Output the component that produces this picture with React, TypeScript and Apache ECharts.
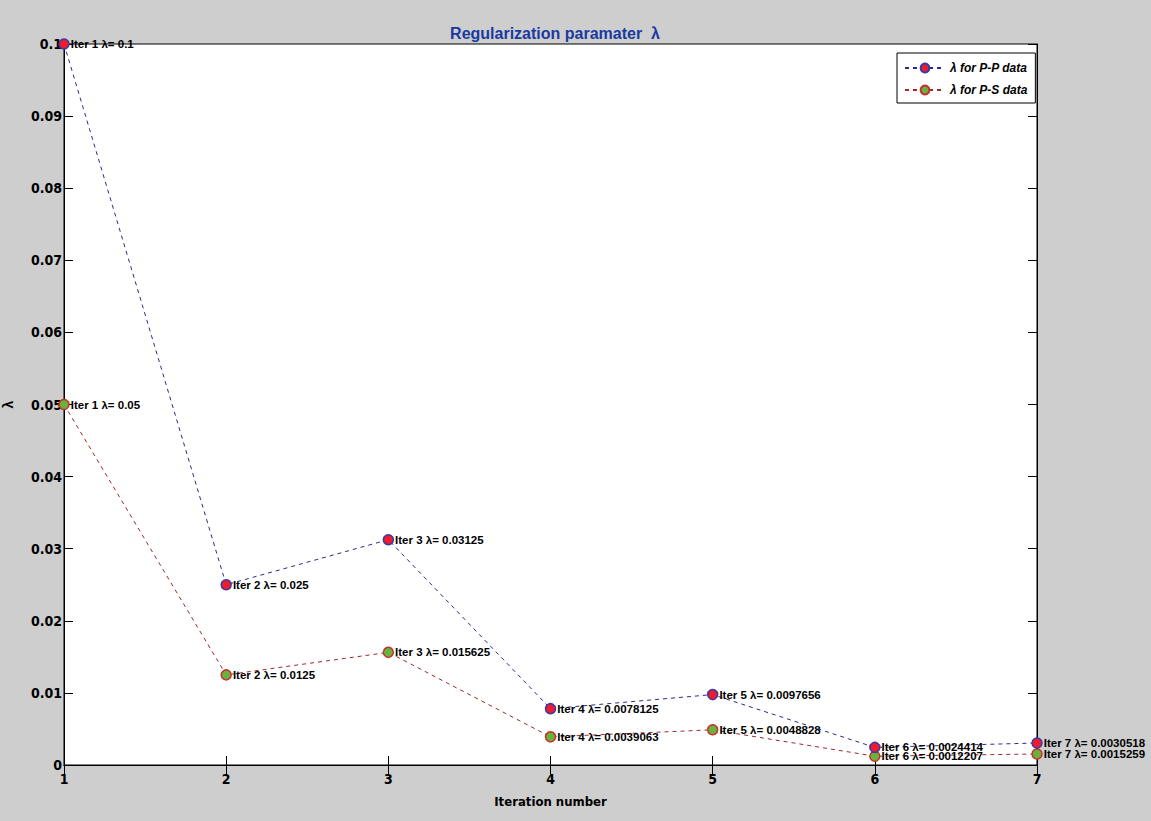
import React, { useEffect, useRef } from "react";
import * as echarts from "echarts";

const iterations = [1, 2, 3, 4, 5, 6, 7];
const ppValues = [0.1, 0.025, 0.03125, 0.0078125, 0.0097656, 0.0024414, 0.0030518];
const psValues = [0.05, 0.0125, 0.015625, 0.0039063, 0.0048828, 0.0012207, 0.0015259];
const seriesNames = ["λ for P-P data", "λ for P-S data"];
const yTicks = [0, 0.01, 0.02, 0.03, 0.04, 0.05, 0.06, 0.07, 0.08, 0.09, 0.1];

const FONT = "'DejaVu Sans Condensed', 'Liberation Sans', Arial, sans-serif";
const FONT2 = "'Liberation Sans', Arial, sans-serif";

export default function App() {
  const ref = useRef<HTMLDivElement>(null);
  useEffect(() => {
    if (!ref.current) return;
    const chart = echarts.init(ref.current, null, { renderer: "svg" });
    const mk = (vals: number[]) => vals.map((v, i) => [iterations[i], v]);
    const labelCfg = {
      show: true,
      position: "right" as const,
      distance: 1,
      color: "#000",
      fontFamily: FONT2,
      fontWeight: "bold" as const,
      fontSize: 11.5,
      formatter: (p: any) => `Iter ${p.value[0]} λ= ${p.value[1]}`,
    };
    chart.setOption({
      animation: false,
      backgroundColor: "#cecece",
      title: {
        text: "Regularization paramater  λ",
        left: 550,
        textAlign: "center",
        top: 20,
        textStyle: { color: "#1a3aa0", fontFamily: FONT2, fontWeight: "bold", fontSize: 16 },
      },
      legend: {
        left: 897,
        top: 53,
        orient: "vertical",
        backgroundColor: "#fff",
        borderColor: "#000",
        borderWidth: 1,
        borderRadius: 0,
        padding: [9, 8, 7, 7],
        itemGap: 10,
        itemWidth: 40,
        itemHeight: 11,
        textStyle: { fontFamily: FONT2, fontStyle: "italic", fontWeight: "bold", fontSize: 12, color: "#000" },
        data: seriesNames,
      },
      grid: {
        left: 64,
        right: 114,
        top: 44,
        bottom: 56,
        outerBoundsMode: "none",
        containLabel: false,
        show: true,
        backgroundColor: "#fff",
        borderColor: "#000",
        borderWidth: 1,
      },
      xAxis: [
        {
          type: "value",
          min: 1,
          max: 7,
          interval: 1,
          name: "Iteration number",
          nameLocation: "middle",
          nameGap: 30,
          nameTextStyle: { fontFamily: FONT, fontWeight: "bold", fontSize: 13, color: "#000" },
          axisLine: { lineStyle: { color: "#000" } },
          axisTick: { inside: true, length: 9, lineStyle: { color: "#000" } },
          axisLabel: { fontFamily: FONT, fontWeight: "bold", fontSize: 14, color: "#000", margin: 7 },
          splitLine: { show: false },
        },
        {
          type: "value",
          position: "top",
          min: 1,
          max: 7,
          interval: 1,
          axisLine: { lineStyle: { color: "#000" } },
          axisTick: { inside: true, length: 9, lineStyle: { color: "#000" } },
          axisLabel: { show: false },
          splitLine: { show: false },
        },
      ],
      yAxis: [
        {
          type: "value",
          min: 0,
          max: 0.1,
          interval: 0.01,
          name: "λ",
          nameLocation: "middle",
          nameGap: 49,
          nameTextStyle: { fontFamily: FONT2, fontWeight: "bold", fontSize: 14, color: "#000" },
          axisLine: { lineStyle: { color: "#000" } },
          axisTick: { inside: true, length: 9, lineStyle: { color: "#000" } },
          axisLabel: {
            fontFamily: FONT,
            fontWeight: "bold",
            fontSize: 14,
            color: "#000",
            margin: 2,
            formatter: (v: number) => {
              const t = yTicks.find((x) => Math.abs(x - v) < 1e-9);
              return String(+(t ?? v).toFixed(2));
            },
          },
          splitLine: { show: false },
        },
        {
          type: "value",
          position: "right",
          min: 0,
          max: 0.1,
          interval: 0.01,
          axisLine: { lineStyle: { color: "#000" } },
          axisTick: { inside: true, length: 9, lineStyle: { color: "#000" } },
          axisLabel: { show: false },
          splitLine: { show: false },
        },
      ],
      series: [
        {
          name: seriesNames[0],
          type: "line",
          data: mk(ppValues),
          symbol: "circle",
          symbolSize: 10,
          lineStyle: { color: "#2a2a90", type: [4, 4], width: 1 },
          itemStyle: { color: "#ee1c2c", borderColor: "#3a3aa8", borderWidth: 1.5 },
          label: labelCfg,
          z: 3,
        },
        {
          name: seriesNames[1],
          type: "line",
          data: mk(psValues),
          symbol: "circle",
          symbolSize: 10,
          lineStyle: { color: "#a02828", type: [4, 4], width: 1 },
          itemStyle: { color: "#6ab23e", borderColor: "#c83030", borderWidth: 1.5 },
          label: labelCfg,
          z: 2,
        },
      ],
    });
    return () => chart.dispose();
  }, []);
  return (
    <div
      ref={ref}
      style={{ position: "absolute", left: 0, top: 0, width: 1151, height: 821 }}
    />
  );
}
